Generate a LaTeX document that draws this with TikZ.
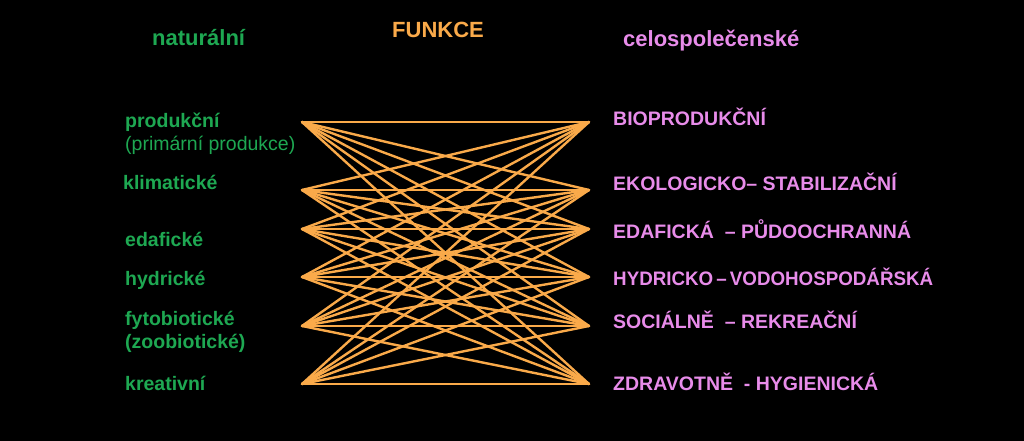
\documentclass[tikz,border=0pt]{standalone}
\usepackage{fontspec}
\setmainfont{Liberation Sans}
\definecolor{lgreen}{RGB}{30,168,82}
\definecolor{lorange}{RGB}{250,170,74}
\definecolor{lpink}{RGB}{232,140,234}
\begin{document}
\begin{tikzpicture}[x=1pt,y=-1pt,
  title/.style={font=\fontsize{22}{26}\selectfont\bfseries, anchor=base west, inner sep=0pt},
  leftlab/.style={font=\fontsize{19.5}{23}\selectfont\bfseries, text=lgreen, anchor=base west, inner sep=0pt},
  leftsub/.style={font=\fontsize{19.5}{23}\selectfont, text=lgreen, anchor=base west, inner sep=0pt},
  rightlab/.style={font=\fontsize{19.5}{23}\selectfont\bfseries, text=lpink, anchor=base west, inner sep=0pt},
  link/.style={draw=lorange, line width=2.4pt, line cap=round}]
\fill[black] (0,0) rectangle (1024,441);
\useasboundingbox (0,0) rectangle (1024,441);
% titles
\node[title, text=lgreen] (tnat) at (152,46) {naturální};
\node[title, text=lorange] (tfun) at (392,38) {FUNKCE};
\node[title, text=lpink] (tcel) at (623,47) {celospolečenské};
% left labels
\node[leftlab] (l1) at (125,127) {produkční};
\node[leftsub] (l1b) at (125,150) {(primární produkce)};
\node[leftlab] (l2) at (123,189) {klimatické};
\node[leftlab] (l3) at (125,246) {edafické};
\node[leftlab] (l4) at (125,285) {hydrické};
\node[leftlab] (l5) at (125,325) {fytobiotické};
\node[leftlab] (l5b) at (125,348) {(zoobiotické)};
\node[leftlab] (l6) at (125,390) {kreativní};
% right labels
\node[rightlab] (r1) at (613,125) {BIOPRODUKČNÍ};
\node[rightlab] (r2) at (613,190) {EKOLOGICKO– STABILIZAČNÍ};
\node[rightlab] (r3) at (613,238) {EDAFICKÁ \ – PŮDOOCHRANNÁ};
\node[rightlab] (r4) at (613,285) {\scalebox{0.962}[1]{HYDRICKO\,–\,VODOHOSPODÁŘSKÁ}};
\node[rightlab] (r5) at (613,328) {SOCIÁLNĚ \ – REKREAČNÍ};
\node[rightlab] (r6) at (613,390) {ZDRAVOTNĚ \ - HYGIENICKÁ};
% endpoints
\foreach \i/\y in {1/122,2/190,3/229,4/277,5/326,6/384}{
  \coordinate (a\i) at (302,\y);
  \coordinate (b\i) at (589,\y);
}
\foreach \i in {1,...,6}{
  \foreach \j in {1,...,6}{
    \draw[link] (a\i) -- (b\j);
  }
}
\end{tikzpicture}
\end{document}
